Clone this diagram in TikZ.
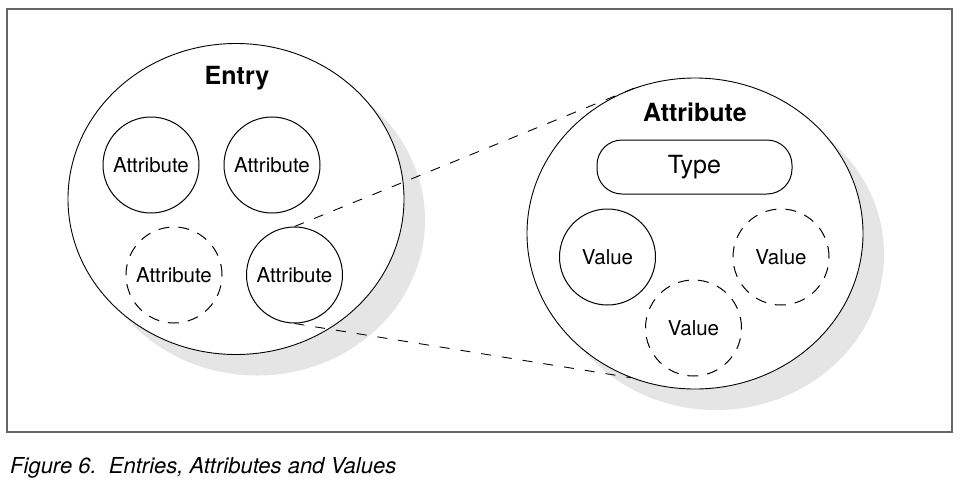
\documentclass[tikz,border=0pt]{standalone}
\usepackage{fontspec}
\setmainfont{TeX Gyre Heros}
\usetikzlibrary{shapes.geometric,shadows}

\tikzset{
    bigoval/.style={ellipse, draw, fill=white, line width=0.9pt, minimum width=336pt, minimum height=311pt, inner sep=0pt,
        drop shadow={shadow xshift=21pt, shadow yshift=-21pt, fill=black!10, opacity=1}},
    part/.style={circle, draw, fill=white, line width=1pt, minimum size=96pt, inner sep=0pt, font=\fontsize{20.5}{24}\selectfont},
    maybe/.style={dash pattern=on 11pt off 9pt},
    zoomline/.style={line width=0.9pt, dash pattern=on 10pt off 11pt},
    heading/.style={font=\fontsize{25}{30}\selectfont\bfseries, inner sep=0pt}
}

\begin{document}
\begin{tikzpicture}[x=1pt,y=-1pt]
    \useasboundingbox (0,0) rectangle (960,483);

    % frame
    \draw [line width=1.2pt, black!60] (7,9) rectangle (952,432);

    % Entry
    \node [bigoval] (entry) at (236,199) {};
    \node [heading] (entrytitle) at (237,78) {Entry};
    \node [part] (a1) at (151,165) {Attribute};
    \node [part] (a2) at (272,165) {Attribute};
    \node [part, maybe] (a3) at (174,275) {Attribute};
    \node [part] (a4) at (294.5,275) {Attribute};

    % Attribute, zoomed
    \node [bigoval] (attr) at (695,233.5) {};
    \node [heading] (attrtitle) at (695,112) {Attribute};
    \node [draw, fill=white, line width=1pt, rounded corners=25pt, minimum width=195pt, minimum height=54pt,
           font=\fontsize{25}{30}\selectfont] (type) at (694.5,167) {Type};
    \node [part] (v1) at (607.5,257) {Value};
    \node [part, maybe] (v2) at (781,257) {Value};
    \node [part, maybe] (v3) at (693.5,328) {Value};

    % zoom lines
    \draw [zoomline] (a4.north) -- (attr.112.4);
    \draw [zoomline] (a4.south) -- (attr.246.8);

    % caption
    \node [anchor=base west, inner sep=0pt, font=\fontsize{22}{26}\selectfont\itshape] (caption) at (10,473)
        {Figure 6.\ \ Entries, Attributes and Values};
\end{tikzpicture}
\end{document}
